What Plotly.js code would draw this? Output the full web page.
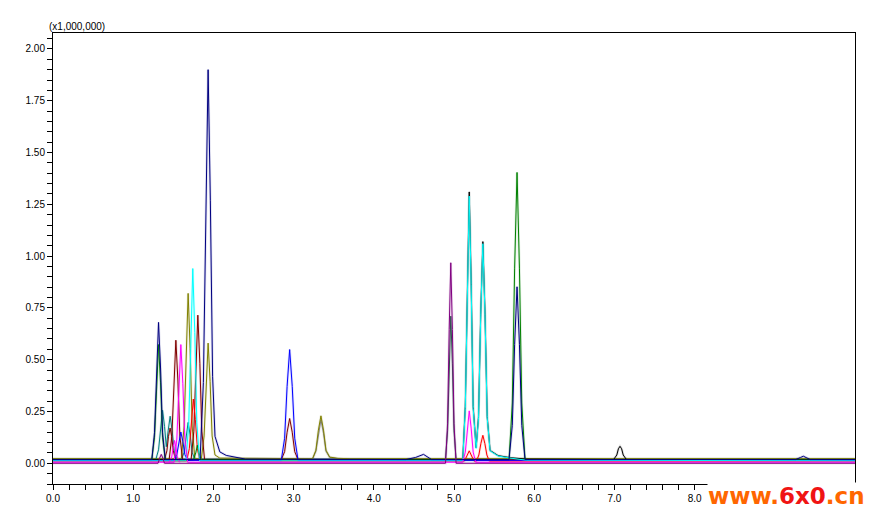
<!DOCTYPE html>
<html>
<head>
<meta charset="utf-8">
<script src="https://cdn.plot.ly/plotly-3.0.1.min.js"></script>
<style>html,body{margin:0;padding:0;background:#fff;}#chart{width:880px;height:518px;}</style>
</head>
<body>
<div id="chart"></div>
<script>
// Retention time (min) and intensity (x1,000,000)
const navyX = [0, 1.232, 1.266, 1.291, 1.316, 1.341, 1.366, 1.40, 1.834, 1.875, 1.904, 1.934, 1.962, 1.99, 2.02, 2.08, 2.16, 2.25, 2.4, 4.40, 4.52, 4.62, 4.68, 4.72, 5.686, 5.727, 5.756, 5.786, 5.816, 5.845, 5.886, 9.26, 9.32, 9.356, 9.40, 9.44, 10];
const navyY = [0.018, 0.018, 0.149, 0.46, 0.68, 0.46, 0.149, 0.018, 0.018, 0.39, 1.27, 1.90, 1.27, 0.42, 0.13, 0.055, 0.038, 0.03, 0.02, 0.018, 0.028, 0.043, 0.03, 0.018, 0.018, 0.183, 0.574, 0.852, 0.574, 0.183, 0.018, 0.018, 0.028, 0.034, 0.026, 0.018, 0.018];

const greenX = [0, 1.232, 1.266, 1.291, 1.316, 1.341, 1.366, 1.40, 1.75, 1.78, 1.80, 1.82, 1.85, 5.686, 5.727, 5.756, 5.786, 5.816, 5.845, 5.886, 10];
const greenY = [0.016, 0.016, 0.126, 0.388, 0.573, 0.388, 0.126, 0.016, 0.016, 0.05, 0.087, 0.05, 0.016, 0.016, 0.291, 0.942, 1.404, 0.942, 0.291, 0.016, 0.016];

const blueX = [0, 1.51, 1.544, 1.569, 1.594, 1.619, 1.644, 1.68, 2.846, 2.888, 2.919, 2.951, 2.983, 3.014, 3.056, 10];
const blueY = [0.014, 0.014, 0.042, 0.106, 0.151, 0.106, 0.042, 0.014, 0.014, 0.121, 0.371, 0.549, 0.371, 0.121, 0.014, 0.014];

const maroonX = [0, 1.448, 1.482, 1.507, 1.532, 1.557, 1.582, 1.616, 1.722, 1.756, 1.781, 1.806, 1.831, 1.856, 1.89, 2.846, 2.888, 2.919, 2.951, 2.983, 3.014, 3.056, 10];
const maroonY = [0.017, 0.017, 0.131, 0.402, 0.594, 0.402, 0.131, 0.017, 0.017, 0.155, 0.483, 0.715, 0.483, 0.155, 0.017, 0.017, 0.056, 0.15, 0.216, 0.15, 0.056, 0.017, 0.017];
const maroon2X = [1.39, 1.42, 1.44, 1.46, 1.48, 1.50, 1.53];
const maroon2Y = [0.017, 0.06, 0.13, 0.17, 0.13, 0.06, 0.017];

const magentaX = [0, 1.51, 1.544, 1.569, 1.594, 1.619, 1.644, 1.68, 5.109, 5.141, 5.166, 5.19, 5.214, 5.239, 5.271, 10];
const magentaY = [0.005, 0.005, 0.117, 0.384, 0.573, 0.384, 0.117, 0.005, 0.005, 0.054, 0.17, 0.253, 0.17, 0.054, 0.005, 0.005];
const magenta2X = [1.45, 1.48, 1.50, 1.515, 1.53, 1.55, 1.58];
const magenta2Y = [0.005, 0.03, 0.08, 0.11, 0.08, 0.03, 0.005];

const cyanX = [0, 1.659, 1.693, 1.718, 1.743, 1.768, 1.793, 1.827, 5.109, 5.141, 5.166, 5.19, 5.214, 5.239, 5.276, 5.306, 5.333, 5.36, 5.387, 5.414, 5.45, 5.55, 5.7, 5.9, 10];
const cyanY = [0.012, 0.012, 0.196, 0.631, 0.94, 0.631, 0.196, 0.012, 0.012, 0.265, 0.864, 1.29, 0.864, 0.265, 0.072, 0.219, 0.711, 1.06, 0.711, 0.219, 0.06, 0.035, 0.025, 0.015, 0.012];

const blackX = [0, 5.109, 5.141, 5.166, 5.19, 5.214, 5.239, 5.276, 5.306, 5.333, 5.36, 5.387, 5.414, 5.45, 5.55, 5.7, 5.9, 6.99, 7.03, 7.05, 7.07, 7.09, 7.11, 7.15, 10];
const blackY = [0.018, 0.018, 0.274, 0.88, 1.31, 0.88, 0.274, 0.075, 0.225, 0.72, 1.07, 0.72, 0.225, 0.062, 0.037, 0.027, 0.02, 0.018, 0.04, 0.07, 0.082, 0.07, 0.04, 0.018, 0.018];

const oliveX = [0, 1.601, 1.635, 1.66, 1.685, 1.71, 1.735, 1.769, 1.85, 1.884, 1.909, 1.934, 1.959, 1.984, 2.02, 2.08, 3.236, 3.278, 3.309, 3.341, 3.373, 3.404, 3.45, 3.55, 3.7, 10];
const oliveY = [0.022, 0.022, 0.18, 0.554, 0.82, 0.554, 0.18, 0.022, 0.022, 0.132, 0.394, 0.58, 0.394, 0.132, 0.04, 0.025, 0.022, 0.063, 0.16, 0.229, 0.16, 0.063, 0.03, 0.024, 0.022, 0.022];

const redX = [0, 1.666, 1.70, 1.725, 1.75, 1.775, 1.80, 1.834, 5.13, 5.16, 5.19, 5.22, 5.25, 5.28, 5.31, 5.335, 5.36, 5.385, 5.41, 5.44, 10];
const redY = [0.011, 0.011, 0.071, 0.211, 0.31, 0.211, 0.071, 0.011, 0.011, 0.035, 0.06, 0.035, 0.011, 0.011, 0.04, 0.095, 0.135, 0.095, 0.04, 0.011, 0.011];

const purpleX = [0, 1.31, 1.33, 1.35, 1.37, 1.39, 4.894, 4.92, 4.94, 4.96, 4.98, 5.00, 5.026, 10];
const purpleY = [0, 0, 0.025, 0.043, 0.025, 0, 0, 0.192, 0.646, 0.968, 0.646, 0.192, 0, 0];

const tealX = [0, 1.282, 1.316, 1.341, 1.366, 1.391, 1.413, 1.436, 1.461, 1.486, 1.511, 1.545, 1.601, 1.635, 1.66, 1.685, 1.71, 1.735, 1.769, 10];
const tealY = [0.018, 0.018, 0.065, 0.177, 0.256, 0.177, 0.08, 0.157, 0.227, 0.157, 0.059, 0.018, 0.018, 0.053, 0.137, 0.197, 0.137, 0.053, 0.018, 0.018];

const grayX = [0, 3.236, 3.278, 3.309, 3.341, 3.373, 3.404, 3.45, 3.55, 3.7, 10];
const grayY = [0.02, 0.02, 0.058, 0.145, 0.21, 0.145, 0.058, 0.028, 0.022, 0.02, 0.02];

const slateX = [0, 4.894, 4.92, 4.94, 4.96, 4.98, 5.00, 5.026, 10];
const slateY = [0.02, 0.02, 0.157, 0.48, 0.71, 0.48, 0.157, 0.02, 0.02];

const xTickVals = [0, 1, 2, 3, 4, 5, 6, 7, 8, 9];
const xTickText = ['0.0', '1.0', '2.0', '3.0', '4.0', '5.0', '6.0', '7.0', '8.0', '9.0'];
const yTickVals = [0, 0.25, 0.5, 0.75, 1, 1.25, 1.5, 1.75, 2];
const yTickText = ['0.00', '0.25', '0.50', '0.75', '1.00', '1.25', '1.50', '1.75', '2.00'];

const series = [
  [grayX, grayY, '#808080'],
  [slateX, slateY, '#2F4F4F'],
  [oliveX, oliveY, '#808000'],
  [tealX, tealY, '#008080'],
  [maroonX, maroonY, '#800000'],
  [maroon2X, maroon2Y, '#800000'],
  [blackX, blackY, '#000000'],
  [redX, redY, '#FF0000'],
  [greenX, greenY, '#008000'],
  [blueX, blueY, '#0000FF'],
  [cyanX, cyanY, '#00FFFF'],
  [magentaX, magentaY, '#FF00FF'],
  [magenta2X, magenta2Y, '#FF00FF'],
  [navyX, navyY, '#000080'],
  [purpleX, purpleY, '#800080']
];

const traces = [];
series.forEach(([x, y, c]) => {
  traces.push({x: x, y: y, type: 'scatter', mode: 'lines', hoverinfo: 'skip',
    line: {color: c, width: 2.6}, opacity: 0.13});
});
series.forEach(([x, y, c]) => {
  traces.push({x: x, y: y, type: 'scatter', mode: 'lines', hoverinfo: 'skip',
    line: {color: c, width: 1}});
});

const tickFont = {family: 'Liberation Sans, Arial, sans-serif', size: 10, color: '#000'};
const layout = {
  width: 880, height: 518,
  margin: {l: 53, r: 25, t: 33, b: 34, pad: 0},
  paper_bgcolor: '#fff', plot_bgcolor: '#fff',
  showlegend: false,
  xaxis: {
    range: [0, 10], tickmode: 'array', tickvals: xTickVals, ticktext: xTickText,
    ticks: 'outside', ticklen: 5, tickwidth: 1, tickcolor: '#000',
    showline: true, linecolor: '#000', linewidth: 1, mirror: true,
    showgrid: false, zeroline: false, tickfont: tickFont,
    minor: {tickmode: 'linear', tick0: 0, dtick: 0.2, ticks: 'outside', ticklen: 5, tickwidth: 1, tickcolor: '#000', showgrid: false}
  },
  yaxis: {
    range: [-0.1, 2.077], tickmode: 'array', tickvals: yTickVals, ticktext: yTickText,
    ticks: 'outside', ticklen: 5, tickwidth: 1, tickcolor: '#000',
    showline: true, linecolor: '#000', linewidth: 1, mirror: true,
    showgrid: false, zeroline: false, tickfont: tickFont,
    minor: {tickmode: 'linear', tick0: 0, dtick: 0.05, ticks: 'outside', ticklen: 5, tickwidth: 1, tickcolor: '#000', showgrid: false}
  },
  annotations: [
    {text: '(x1,000,000)', xref: 'paper', yref: 'paper', x: -0.006, y: 1, xanchor: 'left', yanchor: 'bottom',
     showarrow: false, font: {family: 'Liberation Sans, Arial, sans-serif', size: 10, color: '#000'}, borderpad: 0},
    {text: '<span style="color:#FF6600">www.</span><span style="color:#F01414">6x0</span><span style="color:#FF6600">.cn</span>',
     xref: 'paper', yref: 'paper', x: 0.914, y: -0.026, xanchor: 'center', yanchor: 'middle',
     showarrow: false, bgcolor: '#ffffff', borderpad: 0,
     font: {family: 'DejaVu Sans, sans-serif', size: 23, color: '#FF6600', weight: 'bold'}}
  ]
};

Plotly.newPlot('chart', traces, layout, {displayModeBar: false, staticPlot: true});
</script>
</body>
</html>
